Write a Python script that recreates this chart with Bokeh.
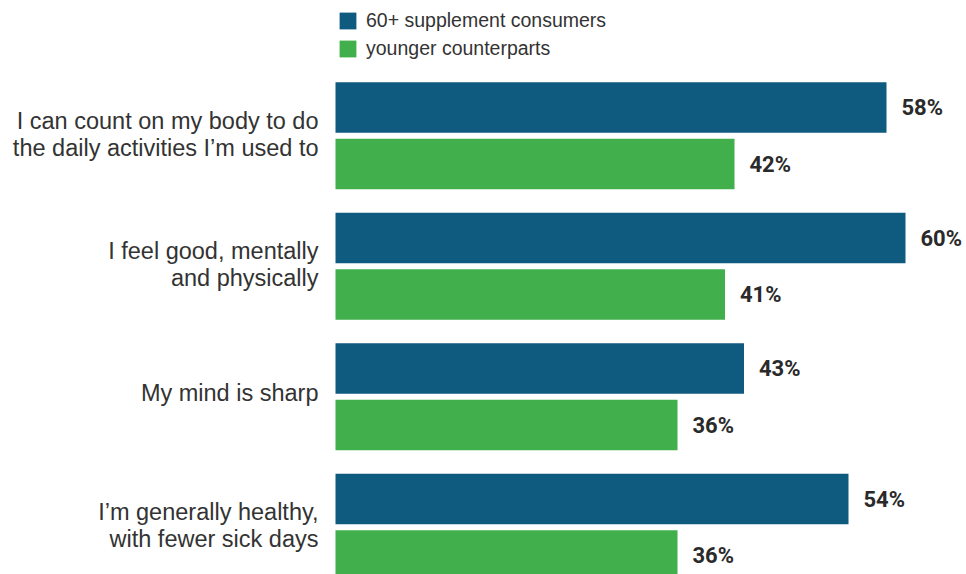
from bokeh.plotting import figure
from bokeh.models import ColumnDataSource, Range1d, Legend, LegendItem
from bokeh.core.properties import value
from bokeh.embed import file_html
from bokeh.resources import INLINE

# ---- data ----
categories = [
    ["I can count on my body to do", "the daily activities I\u2019m used to"],
    ["I feel good, mentally", "and physically"],
    ["My mind is sharp"],
    ["I\u2019m generally healthy,", "with fewer sick days"],
]
series_names = ["60+ supplement consumers", "younger counterparts"]
older = [58, 60, 43, 54]
younger = [42, 41, 36, 36]

BLUE = "#0F5A7F"
GREEN = "#41AF4B"
TEXT = "#333333"

GROUP_STEP = 2.31   # group pitch in category units
BAR_H = 0.894

def pos(g, s):
    return g * GROUP_STEP + s

p = figure(width=966, height=574, output_backend="svg", toolbar_location=None,
           x_range=Range1d(-335 / 9.5, (966 - 335) / 9.5),
           y_range=Range1d((574 - 107) / 56.5, -107 / 56.5),
           min_border=0, min_border_left=0, min_border_right=0,
           min_border_top=0, min_border_bottom=0,
           x_axis_location=None, y_axis_location=None)
p.outline_line_color = None
p.xgrid.visible = False
p.ygrid.visible = False
p.background_fill_color = "white"
p.border_fill_color = "white"

renderers = []
for s, (vals, color) in enumerate([(older, BLUE), (younger, GREEN)]):
    src = ColumnDataSource(dict(
        y=[pos(g, s) for g in range(len(vals))],
        right=vals,
        label=[f"{v}%" for v in vals],
    ))
    r = p.hbar(y="y", left=0, right="right", height=BAR_H, source=src,
               fill_color=color, line_color=None)
    renderers.append(r)
    p.text(x="right", y="y", text="label", source=src, x_offset=15,
           text_baseline="middle", text_align="left",
           text_font=value("Roboto"), text_font_style="bold",
           text_font_size="22px", text_color="#2a2a2a")

# category labels
lx, ly, lt, loff = [], [], [], []
for g, lines in enumerate(categories):
    center = pos(g, 0.5)
    if len(lines) == 1:
        offs = [-4]
    else:
        offs = [-15, 12]
    for line, o in zip(lines, offs):
        lx.append(0)
        ly.append(center)
        lt.append(line)
        loff.append(o)
lab_src = ColumnDataSource(dict(x=lx, y=ly, text=lt, yo=loff))
p.text(x="x", y="y", text="text", y_offset="yo", source=lab_src, x_offset=-17,
       text_align="right", text_baseline="middle",
       text_font=value("Liberation Sans"), text_font_size="23.5px",
       text_color=TEXT)

legend = Legend(items=[LegendItem(label=series_names[i], renderers=[renderers[i]])
                       for i in range(2)],
                location=(337, 514), orientation="vertical",
                padding=0, margin=0, spacing=5,
                glyph_width=21, glyph_height=21, label_height=21,
                label_standoff=8,
                label_text_font="Liberation Sans",
                label_text_font_size="19.5px", label_text_color=TEXT,
                border_line_color=None, background_fill_alpha=0)
p.add_layout(legend, "center")

open("out.html", "w").write(file_html(p, INLINE))
